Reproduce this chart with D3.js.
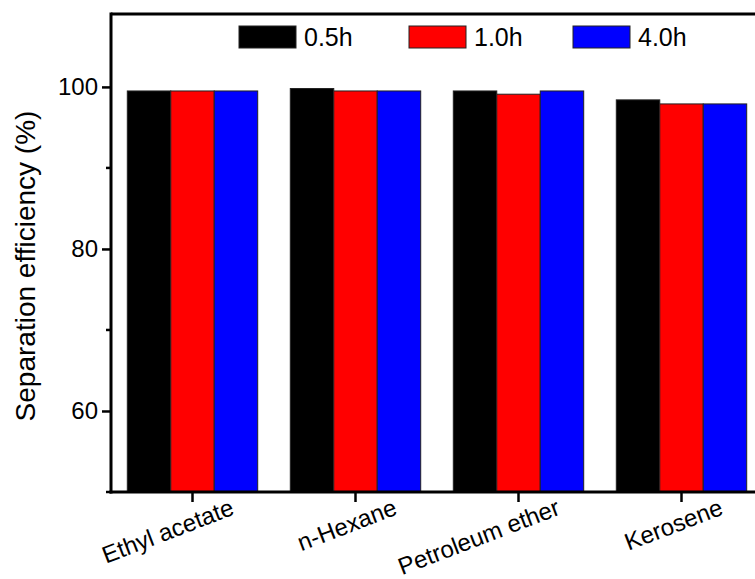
<!DOCTYPE html>
<html>
<head>
<meta charset="utf-8">
<script src="https://cdn.jsdelivr.net/npm/d3@7"></script>
<style>
  body { margin: 0; background: #fff; }
  svg { display: block; font-family: Arial, "Liberation Sans", sans-serif; }
</style>
</head>
<body>
<div id="chart"></div>
<script>
const solvents = ['Ethyl acetate', 'n-Hexane', 'Petroleum ether', 'Kerosene'];
const times = ['0.5h', '1.0h', '4.0h'];
const colors = ['#000000', '#ff0000', '#0000ff'];
const eff05 = [99.5, 99.8, 99.5, 98.4];
const eff10 = [99.5, 99.5, 99.1, 97.9];
const eff40 = [99.5, 99.5, 99.5, 97.9];
const yTicks = [60, 80, 100];
const yMinor = [50, 70, 90];

const series = [eff05, eff10, eff40];

const W = 755, H = 579;
const m = {l: 111, t: 14, b: 492, r: 763};

const svg = d3.select('#chart').append('svg')
	.attr('width', W).attr('height', H);

const x = d3.scaleBand().domain(solvents).range([m.l, m.r])
	.paddingInner(0.2).paddingOuter(0.1);
const xs = d3.scaleBand().domain(d3.range(times.length)).range([0, x.bandwidth()]);
const y = d3.scaleLinear().domain([50, 109]).range([m.b, m.t]);

// bars
const groups = svg.selectAll('.grp')
	.data(solvents)
	.enter().append('g').attr('class', 'grp')
	.attr('transform', d => `translate(${x(d)},0)`);
groups.selectAll('rect')
	.data((d, i) => series.map((s, k) => ({k: k, v: s[i]})))
	.enter().append('rect')
	.attr('x', d => xs(d.k))
	.attr('width', xs.bandwidth())
	.attr('y', d => y(d.v))
	.attr('height', d => y(50) - y(d.v))
	.style('fill', d => colors[d.k])
	.style('stroke', '#222')
	.style('stroke-width', '1px');

// frame
svg.append('line').attr('x1', m.l).attr('x2', m.r).attr('y1', m.t).attr('y2', m.t)
	.style('stroke', '#000').style('stroke-width', '3px');
svg.append('line').attr('x1', m.r).attr('x2', m.r).attr('y1', m.t).attr('y2', m.b)
	.style('stroke', '#000').style('stroke-width', '3px');

// y axis
const yAxis = svg.append('g').attr('transform', `translate(${m.l},0)`)
	.call(d3.axisLeft(y).tickValues(yTicks).tickSize(9).tickPadding(4));
yAxis.select('.domain').remove();
yAxis.append('line').attr('x1', 0).attr('x2', 0).attr('y1', m.t - 1.5).attr('y2', m.b + 1.5)
	.style('stroke', '#000').style('stroke-width', '3px');
yAxis.selectAll('.tick line').style('stroke-width', '2.5px');
yAxis.selectAll('.tick text').style('font-size', '24px').style('fill', '#000');
yAxis.selectAll('.minor').data(yMinor).enter().append('line')
	.attr('x1', -5).attr('x2', 0).attr('y1', d => y(d)).attr('y2', d => y(d))
	.style('stroke', '#000').style('stroke-width', '2.5px');

// x axis
const xAxis = svg.append('g').attr('transform', `translate(0,${m.b})`)
	.call(d3.axisBottom(x).tickSize(10).tickFormat(''));
xAxis.select('.domain').remove();
xAxis.append('line').attr('x1', m.l - 1.5).attr('x2', m.r).attr('y1', 0).attr('y2', 0)
	.style('stroke', '#000').style('stroke-width', '3px');
xAxis.selectAll('.tick line').style('stroke-width', '2.5px');
xAxis.selectAll('.tick').append('text')
	.attr('transform', 'translate(43,22) rotate(-21)')
	.attr('text-anchor', 'end')
	.style('font-size', '24px')
	.style('fill', '#000')
	.text(d => d);

// y title
svg.append('text')
	.attr('transform', 'translate(35,266) rotate(-90)')
	.attr('text-anchor', 'middle')
	.style('font-size', '28px')
	.text('Separation efficiency (%)');

// legend
const legX = [239, 409, 573];
const leg = svg.selectAll('.leg').data(times).enter().append('g').attr('class', 'leg')
	.attr('transform', (d, i) => `translate(${legX[i]},26)`);
leg.append('rect').attr('width', 57).attr('height', 22)
	.style('fill', (d, i) => colors[i]).style('stroke', '#222').style('stroke-width', '1px');
leg.append('text').attr('x', 65).attr('y', 20)
	.style('font-size', '25px').text(d => d);
</script>
</body>
</html>
